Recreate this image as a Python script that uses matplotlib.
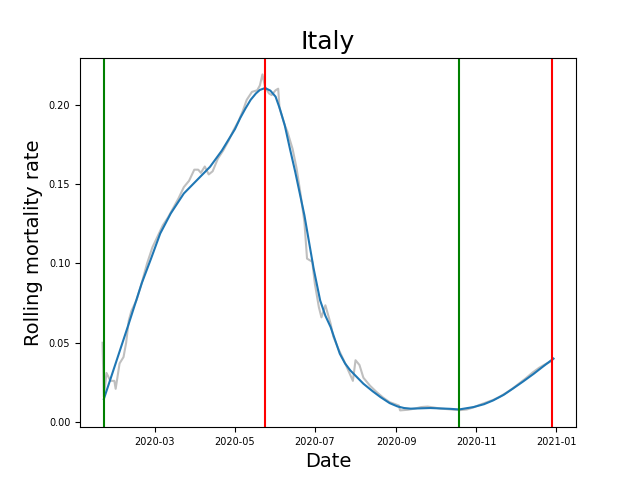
import pandas as pd
import matplotlib
matplotlib.use('Agg')
from matplotlib import pyplot as plt
import matplotlib.dates as mdates

# raw rolling rate (grey, noisy)
raw_dates = ['2020-01-21', '2020-01-22', '2020-01-24', '2020-01-27', '2020-01-30', '2020-01-31',
             '2020-02-03', '2020-02-06', '2020-02-08', '2020-02-10', '2020-02-12', '2020-02-16',
             '2020-02-20', '2020-02-24', '2020-02-28', '2020-03-03', '2020-03-07', '2020-03-11',
             '2020-03-15', '2020-03-19', '2020-03-23', '2020-03-27', '2020-03-31', '2020-04-03',
             '2020-04-05', '2020-04-08', '2020-04-11', '2020-04-14', '2020-04-18', '2020-04-22',
             '2020-04-26', '2020-04-30', '2020-05-04', '2020-05-07', '2020-05-10', '2020-05-14',
             '2020-05-18', '2020-05-20', '2020-05-22', '2020-05-24', '2020-05-27', '2020-05-29',
             '2020-06-01', '2020-06-03', '2020-06-04', '2020-06-08', '2020-06-10', '2020-06-14',
             '2020-06-17', '2020-06-20', '2020-06-23', '2020-06-25', '2020-06-29', '2020-07-01',
             '2020-07-04', '2020-07-06', '2020-07-09', '2020-07-13', '2020-07-15', '2020-07-19',
             '2020-07-23', '2020-07-30', '2020-08-01', '2020-08-04', '2020-08-07', '2020-08-12',
             '2020-08-17', '2020-08-22', '2020-08-27', '2020-09-03', '2020-09-04', '2020-09-10',
             '2020-09-15', '2020-09-20', '2020-09-25', '2020-09-30', '2020-10-05', '2020-10-10',
             '2020-10-15', '2020-10-20', '2020-10-25', '2020-10-30', '2020-11-04', '2020-11-09',
             '2020-11-14', '2020-11-19', '2020-11-24', '2020-11-29', '2020-12-04', '2020-12-09',
             '2020-12-14', '2020-12-19', '2020-12-24', '2020-12-28', '2020-12-30']
raw_rate = [0.050, 0.016, 0.031, 0.026, 0.026, 0.021,
            0.037, 0.041, 0.050, 0.064, 0.070, 0.077,
            0.088, 0.100, 0.110, 0.117, 0.124, 0.129,
            0.135, 0.141, 0.148, 0.152, 0.159, 0.159,
            0.157, 0.161, 0.156, 0.158, 0.166, 0.171,
            0.177, 0.184, 0.190, 0.196, 0.203, 0.208,
            0.209, 0.212, 0.219, 0.211, 0.207, 0.206,
            0.209, 0.210, 0.198, 0.187, 0.183, 0.172,
            0.160, 0.144, 0.126, 0.103, 0.101, 0.087,
            0.0725, 0.066, 0.0736, 0.062, 0.054, 0.046,
            0.039, 0.026, 0.039, 0.036, 0.028, 0.023,
            0.019, 0.0155, 0.0126, 0.0105, 0.0074, 0.0078,
            0.0085, 0.0095, 0.0098, 0.0092, 0.0085, 0.0082,
            0.0078, 0.0076, 0.0080, 0.0093, 0.0110, 0.0125,
            0.0140, 0.0160, 0.0185, 0.0213, 0.0245, 0.0277,
            0.0312, 0.0342, 0.0366, 0.0382, 0.0400]

# smoothed rate (blue)
smooth_dates = ['2020-01-22', '2020-01-31', '2020-02-10', '2020-02-20', '2020-02-27', '2020-03-05',
                '2020-03-13', '2020-03-23', '2020-04-02', '2020-04-12', '2020-04-21', '2020-05-01',
                '2020-05-05', '2020-05-09', '2020-05-13', '2020-05-17', '2020-05-20', '2020-05-24',
                '2020-05-28', '2020-06-01', '2020-06-04', '2020-06-08', '2020-06-12', '2020-06-16',
                '2020-06-23', '2020-06-30', '2020-07-05', '2020-07-09', '2020-07-13', '2020-07-20',
                '2020-07-24', '2020-07-28', '2020-08-07', '2020-08-14', '2020-08-20', '2020-08-27',
                '2020-09-02', '2020-09-07', '2020-09-12', '2020-09-27', '2020-10-12', '2020-10-19',
                '2020-10-30', '2020-11-07', '2020-11-14', '2020-11-22', '2020-11-29', '2020-12-07',
                '2020-12-15', '2020-12-22', '2020-12-30']
smooth_rate = [0.0146, 0.0370, 0.0620, 0.0877, 0.1030, 0.1188,
               0.1314, 0.1440, 0.1524, 0.1608, 0.1710, 0.1845,
               0.1915, 0.1975, 0.2030, 0.2070, 0.2092, 0.2104,
               0.2088, 0.2050, 0.1980, 0.1870, 0.1720, 0.1576,
               0.1303, 0.0969, 0.0767, 0.0670, 0.0599, 0.0431,
               0.0370, 0.0326, 0.0242, 0.0195, 0.0158, 0.0120,
               0.0099, 0.0089, 0.0085, 0.0089, 0.0084, 0.0080,
               0.0095, 0.0113, 0.0137, 0.0172, 0.0211, 0.0257,
               0.0305, 0.0350, 0.0400]

start_lines = ['2020-01-22', '2020-10-19']
end_lines = ['2020-05-24', '2020-12-29']

fig, ax = plt.subplots(figsize=(6.4, 4.8), dpi=100)
ax.plot(pd.to_datetime(raw_dates), raw_rate, color='grey', alpha=0.5, linewidth=1.5)
ax.plot(pd.to_datetime(smooth_dates), smooth_rate, color='tab:blue', linewidth=1.5)

for d in start_lines:
    ax.axvline(pd.to_datetime(d), color='green')
for d in end_lines:
    ax.axvline(pd.to_datetime(d), color='red')

ax.xaxis.set_major_locator(mdates.MonthLocator(bymonth=[1, 3, 5, 7, 9, 11]))
ax.xaxis.set_major_formatter(mdates.DateFormatter('%Y-%m'))
ax.tick_params(labelsize=7)

ax.set_title('Italy', fontsize=18)
ax.set_xlabel('Date', fontsize=14)
ax.set_ylabel('Rolling mortality rate', fontsize=14)

plt.savefig('out.png')
